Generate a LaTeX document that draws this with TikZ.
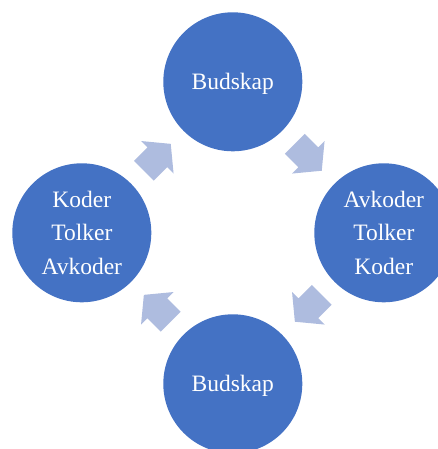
\documentclass[tikz,border=0pt]{standalone}
\usepackage{fontspec}
\setmainfont{Liberation Serif}
\usetikzlibrary{calc}
\definecolor{circblue}{HTML}{4472C4}
\definecolor{arrowblue}{HTML}{AEBCDF}
\begin{document}
\begin{tikzpicture}[x=1pt,y=1pt,
  bubble/.style={circle, fill=circblue, draw=none, minimum size=139pt, inner sep=0pt,
    text=white, align=center, font=\fontsize{23.5}{33.4}\selectfont},
  single/.style={text depth=0pt},
  blockarrow/.pic={\fill[arrowblue] (-19,-14) -- (0,-14) -- (0,-23) -- (19,0) -- (0,23) -- (0,14) -- (-19,14) -- cycle;}
]
\useasboundingbox (0,0) rectangle (438,449);
\clip (0,0) rectangle (438,449);
\node[bubble, single] (top) at (232.8,367.2) {Budskap};
\node[bubble] (right) at (383.8,216.2) {Avkoder\\Tolker\\Koder};
\node[bubble, single] (bottom) at (232.8,65.2) {Budskap};
\node[bubble] (left) at (81.8,216.2) {Koder\\Tolker\\Avkoder};
\coordinate (a1) at ($(left)!0.5!(top)$);
\coordinate (a2) at ($(top)!0.5!(right)$);
\coordinate (a3) at ($(right)!0.5!(bottom)$);
\coordinate (a4) at ($(bottom)!0.5!(left)$);
\pic[rotate=45] at (a1) {blockarrow};
\pic[rotate=-45] at (a2) {blockarrow};
\pic[rotate=-135] at (a3) {blockarrow};
\pic[rotate=135] at (a4) {blockarrow};
\end{tikzpicture}
\end{document}
